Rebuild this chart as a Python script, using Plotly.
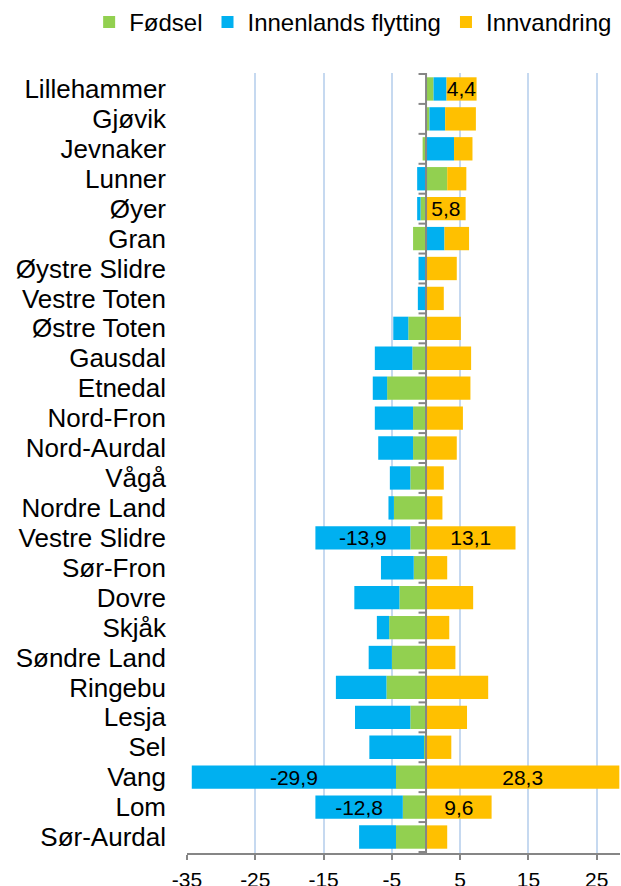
import plotly.graph_objects as go

kommuner = [
    "Lillehammer", "Gjøvik", "Jevnaker", "Lunner", "Øyer", "Gran",
    "Øystre Slidre", "Vestre Toten", "Østre Toten", "Gausdal", "Etnedal",
    "Nord-Fron", "Nord-Aurdal", "Vågå", "Nordre Land", "Vestre Slidre",
    "Sør-Fron", "Dovre", "Skjåk", "Søndre Land", "Ringebu", "Lesja", "Sel",
    "Vang", "Lom", "Sør-Aurdal",
]
fodsel = [1.1, 0.5, -0.5, 3.1, -0.8, -1.9, 0.0, 0.0, -2.6, -2.0, -5.7,
          -1.9, -1.9, -2.3, -4.7, -2.3, -1.8, -3.9, -5.4, -5.0, -5.8,
          -2.3, -0.3, -4.4, -3.4, -4.4]
innenlands = [1.9, 2.3, 4.1, -1.3, -0.5, 2.7, -1.1, -1.2, -2.2, -5.5, -2.1,
              -5.6, -5.1, -3.0, -0.8, -13.9, -4.8, -6.6, -1.8, -3.4, -7.4,
              -8.1, -8.0, -29.9, -12.8, -5.4]
innvandring = [4.4, 4.5, 2.7, 2.8, 5.8, 3.6, 4.5, 2.6, 5.1, 6.6, 6.5, 5.4,
               4.5, 2.6, 2.4, 13.1, 3.1, 6.9, 3.4, 4.3, 9.1, 6.0, 3.7, 28.3,
               9.6, 3.1]

# which bars carry a data label
merket_innenlands = ["Vestre Slidre", "Vang", "Lom"]
merket_innvandring = ["Lillehammer", "Øyer", "Vestre Slidre", "Vang", "Lom"]

x_ticks = [-35, -25, -15, -5, 5, 15, 25]


def labels(values, marked):
    return [f"{v:.1f}".replace(".", ",") if k in marked else ""
            for k, v in zip(kommuner, values)]


font = "Liberation Sans"
fig = go.Figure()
series = [
    ("Fødsel", fodsel, "#92D050", []),
    ("Innenlands flytting", innenlands, "#00B0F0", merket_innenlands),
    ("Innvandring", innvandring, "#FFC000", merket_innvandring),
]
for name, vals, color, marked in series:
    fig.add_trace(go.Bar(
        y=kommuner, x=vals, name=name, orientation="h",
        marker=dict(color=color, line_width=0),
        text=labels(vals, marked), textposition="inside",
        insidetextanchor="middle", textangle=0, constraintext="none",
        textfont=dict(family=font, size=21, color="black"),
    ))

# vertical category axis at zero, with its small tick marks
fig.add_shape(type="line", xref="x", yref="paper", x0=0, x1=0, y0=0, y1=1,
              line=dict(color="#868686", width=2), layer="above")
for i in range(len(kommuner) + 1):
    fig.add_shape(type="line", xref="x", yref="y", x0=-1.1, x1=0,
                  y0=i - 0.5, y1=i - 0.5,
                  line=dict(color="#868686", width=2), layer="above")

fig.update_layout(
    width=621, height=886,
    barmode="relative", bargap=0.22,
    margin=dict(l=187, r=1, t=73, b=33, autoexpand=False),
    plot_bgcolor="white", paper_bgcolor="white",
    font=dict(family=font, size=25, color="black"),
    showlegend=True,
    legend=dict(orientation="h", x=-0.226, xanchor="left",
                y=1.065, yanchor="middle",
                font=dict(size=24), traceorder="normal",
                itemwidth=30, tracegroupgap=0),
    xaxis=dict(range=[-35, 28.4], tickvals=x_ticks,
               ticktext=[str(t) for t in x_ticks],
               showgrid=True, gridcolor="#C6D9F0", gridwidth=2,
               zeroline=False, showline=True, linecolor="#868686",
               linewidth=2, ticks="outside", ticklen=5, tickwidth=2,
               tickcolor="#868686", tickfont=dict(size=21),
               ticklabelstandoff=2, automargin=False),
    yaxis=dict(autorange="reversed", showgrid=False, zeroline=False,
               tickmode="array", tickvals=kommuner,
               ticks="", ticklabelstandoff=20, tickfont=dict(size=26),
               automargin=False),
)

fig.write_html("out.html", config={"displayModeBar": False},
               post_script="document.body.style.margin = '0';")
